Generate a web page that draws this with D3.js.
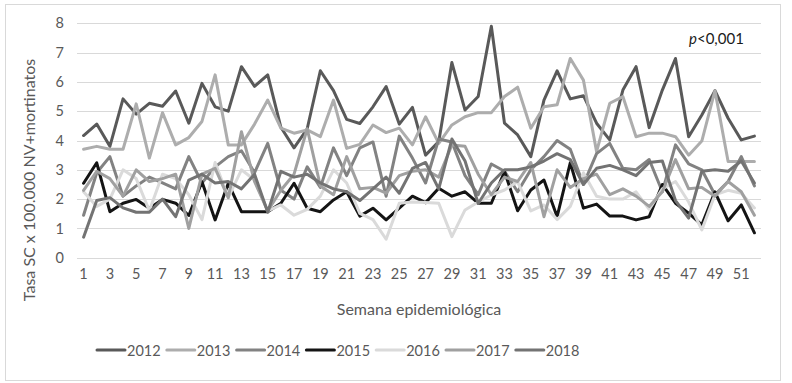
<!DOCTYPE html>
<html><head><meta charset="utf-8">
<script src="https://cdn.jsdelivr.net/npm/d3@7"></script>
<style>body{margin:0;background:#fff}svg{display:block}</style>
</head><body>
<script>
const weeks = d3.range(1, 53);
const years = ["2012","2013","2014","2015","2016","2017","2018"];
const s2012 = [4.17,4.56,3.8,5.42,4.9,5.27,5.17,5.69,4.59,5.95,5.15,5.0,6.52,5.85,6.24,4.45,3.75,4.4,6.38,5.7,4.72,4.58,5.15,5.84,4.56,5.13,3.5,3.96,6.66,5.04,5.5,7.9,4.59,4.19,3.45,5.38,6.38,5.42,5.53,4.59,4.02,5.72,6.52,4.44,5.72,6.8,4.13,4.87,5.7,4.76,4.02,4.15];
const s2013 = [3.7,3.8,3.7,3.7,5.25,3.4,4.95,3.85,4.1,4.65,6.24,3.85,3.85,4.56,5.38,4.42,4.25,4.36,4.13,5.38,3.73,3.87,4.53,4.27,4.42,3.85,4.81,3.9,4.53,4.81,4.95,4.95,5.5,5.82,4.42,5.15,5.22,6.8,6.06,3.62,5.27,5.5,4.13,4.25,4.25,4.13,3.5,3.98,5.7,3.28,3.28,3.28];
const s2014 = [1.45,2.9,3.45,2.1,2.45,2.75,2.55,2.35,3.45,2.55,3.1,3.45,3.65,2.9,3.9,2.3,2.0,3.1,2.4,3.75,2.8,3.75,3.95,2.1,4.15,3.4,2.55,4.05,3.95,2.8,2.15,3.2,2.95,2.25,3.0,3.45,4.0,3.7,2.5,3.55,3.9,3.05,3.0,3.35,2.25,3.85,3.2,3.0,2.15,2.6,3.45,2.45];
const s2015 = [2.54,3.24,1.57,1.86,1.99,1.69,1.99,1.86,1.44,2.59,1.29,2.54,1.57,1.57,1.57,1.86,2.54,1.69,1.57,1.97,2.25,1.42,1.69,1.29,1.69,2.1,1.88,2.37,2.1,2.25,1.86,1.86,2.94,1.6,2.31,2.65,1.4,3.24,1.69,1.83,1.42,1.42,1.29,1.4,2.5,1.86,1.52,1.12,2.25,1.26,1.8,0.85];
const s2016 = [2.25,1.75,2.0,3.0,2.7,1.6,2.85,2.7,2.15,1.3,3.25,2.05,3.0,2.65,1.6,1.8,1.45,1.65,2.1,3.0,2.55,1.51,1.3,0.63,1.86,1.9,1.88,1.86,0.72,1.63,1.9,2.14,2.31,2.59,1.6,1.8,1.3,1.75,2.9,2.1,2.0,2.0,2.25,1.65,2.35,2.6,1.9,0.95,2.15,2.3,2.2,1.7];
const s2017 = [2.3,2.95,2.7,2.1,3.0,2.6,2.7,2.85,1.0,2.85,3.05,2.05,4.3,2.6,1.6,2.3,2.85,4.4,2.45,2.15,3.45,2.35,2.4,2.2,2.8,2.95,3.0,2.75,3.85,3.8,2.85,2.15,2.75,2.6,3.25,1.4,3.0,2.4,2.7,2.85,2.15,2.35,2.1,1.75,2.25,3.35,2.35,2.4,2.1,2.6,2.25,1.45];
const s2018 = [0.7,1.95,2.05,1.7,1.55,1.55,2.0,1.4,2.65,2.85,2.55,2.6,2.35,2.85,1.55,2.95,2.75,2.85,2.55,2.35,2.25,1.95,2.35,2.75,2.2,3.05,3.25,2.35,4.05,3.3,1.85,2.55,3.0,3.0,3.1,3.3,3.55,3.35,2.5,3.05,3.15,3.0,2.8,3.25,3.3,1.95,1.35,2.95,3.0,2.95,3.3,2.55];
const seriesValues = [s2012,s2013,s2014,s2015,s2016,s2017,s2018];
const colors = ["#595959","#adadad","#828282","#141414","#dadada","#a0a0a0","#737373"];
const yTicks = [0,1,2,3,4,5,6,7,8];
const xTickLabels = weeks.filter(w => w % 2 === 1);

const W = 792, H = 383;
const svg = d3.select("body").append("svg").attr("width", W).attr("height", H);
const font = "Lato, 'Liberation Sans', Arial, sans-serif";

svg.append("rect").attr("x",5.5).attr("y",4.5).attr("width",775).attr("height",376)
  .attr("fill","#fff").attr("stroke","#d9d9d9").attr("stroke-width",1);

const pLeft = 77, pRight = 761, pTop = 23.3, pBottom = 257.7;
const x = d3.scaleBand().domain(weeks).range([pLeft, pRight]);
const y = d3.scaleLinear().domain([0, 8]).range([pBottom, pTop]);
const cx = w => x(w) + x.bandwidth()/2;

// gridlines
svg.append("g").selectAll("line").data(yTicks).join("line")
  .attr("x1", pLeft).attr("x2", pRight)
  .attr("y1", d => Math.round(y(d))+0.5).attr("y2", d => Math.round(y(d))+0.5)
  .attr("stroke", "#d9d9d9").attr("stroke-width", 1);

// y axis labels
const yAxis = d3.axisLeft(y).tickValues(yTicks).tickSize(0).tickPadding(0);
const gy = svg.append("g").attr("transform", `translate(${pLeft-13},0)`).call(yAxis);
gy.select(".domain").remove();
gy.selectAll("text").attr("font-family", font).attr("font-size", 14.5).attr("fill", "#595959");

// x axis labels
const xAxis = d3.axisBottom(x).tickValues(xTickLabels).tickSize(0).tickPadding(0);
const gx = svg.append("g").attr("transform", `translate(0,${pBottom+11})`).call(xAxis);
gx.select(".domain").remove();
gx.selectAll("text").attr("font-family", font).attr("font-size", 14.5).attr("fill", "#595959");

// lines
const line = d3.line().x((d,i) => cx(weeks[i])).y(d => y(d));
svg.append("g").selectAll("path").data(seriesValues).join("path")
  .attr("d", d => line(d)).attr("fill","none")
  .attr("stroke", (d,i) => colors[i]).attr("stroke-width", 3)
  .attr("stroke-linejoin","round").attr("stroke-linecap","round");

// axis titles
svg.append("text").attr("transform","translate(35,180) rotate(-90)")
  .attr("text-anchor","middle").attr("font-family",font).attr("font-size",16)
  .attr("fill","#595959").text("Tasa SC x 100.000 NV+mortinatos");
svg.append("text").attr("x",419).attr("y",315).attr("text-anchor","middle")
  .attr("font-family",font).attr("font-size",16).attr("fill","#595959")
  .text("Semana epidemiológica");

// p-value
const pt = svg.append("text").attr("x",689).attr("y",44).attr("font-family",font)
  .attr("font-size",15).attr("fill","#1a1a1a");
pt.append("tspan").attr("font-style","italic").text("p");
pt.append("tspan").text("<0,001");

// legend
const lg = svg.append("g").selectAll("g").data(years).join("g")
  .attr("transform", (d,i) => `translate(${97 + i*69.8},350)`);
lg.append("line").attr("x1",0).attr("x2",28).attr("y1",0).attr("y2",0)
  .attr("stroke",(d,i)=>colors[i]).attr("stroke-width",3).attr("stroke-linecap","round");
lg.append("text").attr("x",30).attr("y",5.5).attr("font-family",font).attr("font-size",14.5)
  .attr("fill","#595959").text(d=>d);
</script>
</body></html>
